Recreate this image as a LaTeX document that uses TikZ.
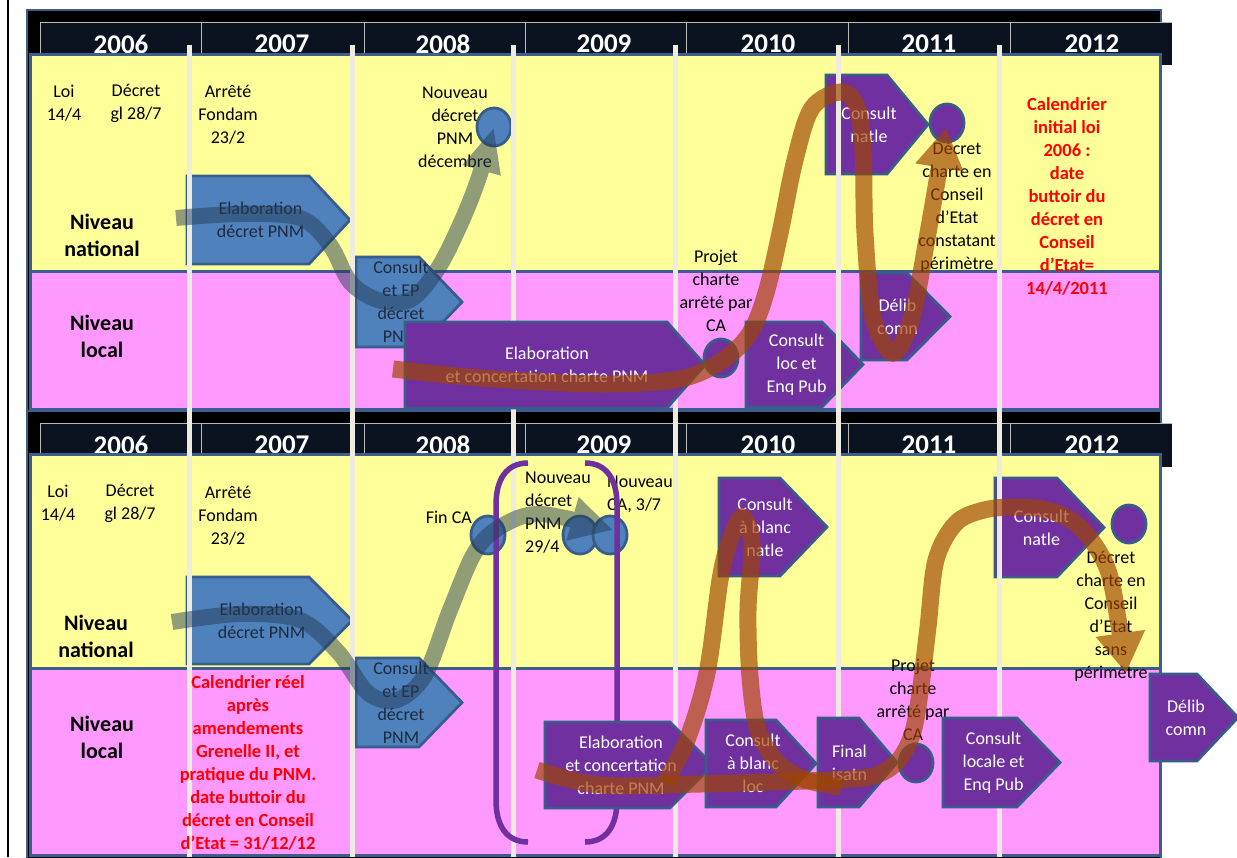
\documentclass[tikz,border=0pt]{standalone}
\usepackage{fontspec}
\setmainfont{Carlito}
\usetikzlibrary{arrows.meta,shapes.geometric}
\definecolor{yel}{RGB}{255,255,153}
\definecolor{pnk}{RGB}{255,153,255}
\definecolor{frameblue}{RGB}{59,94,140}
\definecolor{hdr}{RGB}{11,18,32}
\definecolor{hdrline}{RGB}{185,185,185}
\definecolor{gline}{RGB}{238,236,225}
\definecolor{bfill}{RGB}{79,129,189}
\definecolor{bborder}{RGB}{56,93,138}
\definecolor{pfill}{RGB}{112,48,160}
\definecolor{navyar}{RGB}{35,61,87}
\definecolor{orar}{RGB}{160,68,0}
\definecolor{redt}{RGB}{255,0,0}
\definecolor{bluetext}{RGB}{30,42,60}
% pentagon box: 1 box style, 2 text style, 3 name, 4 x1, 5 y1, 6 x of pointer start, 7 tip x, 8 y2, 9 text
\newcommand{\pentnode}[9]{%
  \draw[#1] (#4,#5) -- (#6,#5) -- (#7,{(#5+#8)/2}) -- (#6,#8) -- (#4,#8) -- cycle;
  \node[#2] (#3) at ({(#4+#7)/2-8},{(#5+#8)/2}) {#9};}
\begin{document}
\begin{tikzpicture}[x=1pt,y=-1pt,
  lbl/.style={font=\fontsize{18}{23}\selectfont, align=center, inner sep=0pt, text=black},
  niv/.style={font=\fontsize{22}{27}\selectfont\bfseries, align=center, inner sep=0pt, text=black},
  yr/.style={font=\fontsize{27}{30}\selectfont\bfseries, text=white, inner sep=0pt},
  redtx/.style={font=\fontsize{18.5}{23}\selectfont\bfseries, text=redt, align=center, inner sep=0pt},
  btxt/.style={font=\fontsize{18}{23}\selectfont, text=bluetext, align=center, inner sep=0pt},
  ptxt/.style={font=\fontsize{18}{23}\selectfont, text=white, align=center, inner sep=0pt},
  bbox/.style={fill=bfill, draw=bborder, line width=2.8pt},
  pbox/.style={fill=pfill, draw=bborder, line width=2.8pt},
  bcirc/.style={ellipse, fill=bfill, draw=bborder, line width=2.8pt, minimum width=34pt, minimum height=38pt, inner sep=0pt},
  pcirc/.style={ellipse, fill=pfill, draw=bborder, line width=2.8pt, minimum width=34pt, minimum height=38pt, inner sep=0pt},
  gl/.style={gline, line width=5pt},
  hl/.style={hdrline, line width=0.8pt},
  bracket/.style={pfill, line width=5.5pt},
  navyflow/.style={navyar, line width=16pt},
  orflow/.style={orar, line width=17pt}
]
\useasboundingbox (0,0) rectangle (1237,857);
\fill[white] (0,0) rectangle (1237,857);
\draw[black, line width=2pt] (7.5,0) -- (7.5,857);

% ---------- top panel ----------
\filldraw[fill=black, draw=frameblue, line width=2pt] (27,10) rectangle (1161,412);
\fill[hdr] (40,22) rectangle (1172,65);
\draw[hl] (40,22) -- (1172,22);
\foreach \x in {40,201,364,525,686,848,1010} \draw[hl] (\x,22) -- (\x,54);
\node[yr] (t06) at (121,44) {2006};
\node[yr] (t07) at (282,44) {2007};
\node[yr] (t08) at (443,44) {2008};
\node[yr] (t09) at (604,44) {2009};
\node[yr] (t10) at (768,44) {2010};
\node[yr] (t11) at (929,44) {2011};
\node[yr] (t12) at (1092,44) {2012};
\filldraw[fill=yel, draw=frameblue, line width=3pt] (30,54) rectangle (1160,271);
\filldraw[fill=pnk, draw=frameblue, line width=3pt] (30,271) rectangle (1160,409);

% ---------- bottom panel ----------
\filldraw[fill=black, draw=frameblue, line width=2pt] (27,411) rectangle (1161,870);
\fill[hdr] (40,423) rectangle (1172,467);
\draw[hl] (40,423) -- (1172,423);
\foreach \x in {40,201,364,525,686,848,1010} \draw[hl] (\x,423) -- (\x,454);
\node[yr] (u06) at (121,445) {2006};
\node[yr] (u07) at (282,445) {2007};
\node[yr] (u08) at (443,445) {2008};
\node[yr] (u09) at (604,445) {2009};
\node[yr] (u10) at (768,445) {2010};
\node[yr] (u11) at (929,445) {2011};
\node[yr] (u12) at (1092,445) {2012};
\filldraw[fill=yel, draw=frameblue, line width=3pt] (30,454) rectangle (1160,668);
\filldraw[fill=pnk, draw=frameblue, line width=3pt] (30,668) rectangle (1160,855);

% ---------- labels ----------
\node[lbl] (loi1) at (64,103.5) {Loi\\14/4};
\node[lbl] (dec1) at (136,103.5) {Décret\\gl 28/7};
\node[lbl] (arr1) at (228,115) {Arrêté\\Fondam\\23/2};
\node[niv] (nn1) at (102,235.5) {Niveau\\national};
\node[niv] (nl1) at (102,336.5) {Niveau\\local};
\node[lbl] (nd1) at (455,127.5) {Nouveau\\décret\\PNM\\décembre};
\node[lbl] (pc1) at (716,291) {Projet\\charte\\arrêté par\\CA};
\node[lbl] (dc1) at (957,207.5) {Décret\\charte en\\Conseil\\d’Etat\\constatant\\périmètre};

\node[lbl] (loi2) at (58,503.5) {Loi\\14/4};
\node[lbl] (dec2) at (130,503.5) {Décret\\gl 28/7};
\node[lbl] (arr2) at (228,516) {Arrêté\\Fondam\\23/2};
\node[niv] (nn2) at (96,636.5) {Niveau\\national};
\node[niv] (nl2) at (102,737.5) {Niveau\\local};
\node[lbl, anchor=east] (fin) at (472,517) {Fin CA};
\node[lbl, align=left, anchor=west] (nd2) at (525,512.5) {Nouveau\\décret\\PNM\\29/4};
\node[lbl, align=left, anchor=west] (nca) at (607,494.5) {Nouveau\\CA, 3/7};
\node[lbl] (pc2) at (913,700) {Projet\\charte\\arrêté par\\CA};
\node[lbl] (dc2) at (1111,616.5) {Décret\\charte en\\Conseil\\d’Etat\\sans\\périmètre};

% ---------- boxes under the year lines ----------
\pentnode{bbox}{btxt}{b1}{187}{176}{309}{350}{264}{Elaboration\\décret PNM}
\pentnode{bbox}{btxt}{b2}{356}{257}{419}{462}{347}{Consult\\et EP\\décret\\PNM}
\pentnode{pbox}{ptxt}{p1}{826}{75}{887}{928}{174}{Consult\\natle}
\pentnode{pbox}{ptxt}{p2}{746}{322}{822}{863}{407}{Consult\\loc et\\Enq Pub}
\node[bcirc] (c1) at (494,127) {};
\pentnode{bbox}{btxt}{b3}{187}{577}{309}{352}{664}{Elaboration\\décret PNM}
\pentnode{bbox}{btxt}{b4}{356}{658}{419}{462}{747}{Consult\\et EP\\décret\\PNM}
\pentnode{pbox}{ptxt}{p5}{995}{478}{1057}{1104}{577}{Consult\\natle}

% ---------- year lines ----------
\foreach \x in {189,352,513,675,838,999} \draw[gl] (\x,45) -- (\x,857);

% ---------- boxes over the year lines ----------
\pentnode{pbox}{ptxt}{p3}{405}{322}{667}{705}{408}{Elaboration\\et concertation charte PNM}
\pentnode{pbox}{ptxt}{p4}{861}{273}{907}{950}{360}{Délib\\comn}
\node[pcirc] (c2) at (721,358) {};
\node[pcirc] (c3) at (947,123) {};

\node[bcirc] (c4) at (488,535) {};
\node[bcirc] (c5) at (580,535) {};
\node[bcirc] (c6) at (610,535) {};
\draw[bracket] (528,463) .. controls (506,463) and (496,480) .. (496,505) -- (496,800) .. controls (496,825) and (506,842) .. (528,842);
\draw[bracket] (585,463) .. controls (607,463) and (617,480) .. (617,505) -- (617,800) .. controls (617,825) and (607,842) .. (585,842);
\pentnode{pbox}{ptxt}{p6}{545}{722}{670}{713}{808}{Elaboration\\et concertation\\charte PNM}
\pentnode{pbox}{ptxt}{p7}{719}{478}{780}{827}{576}{Consult\\à blanc\\natle}
\pentnode{pbox}{ptxt}{p8}{706}{720}{776}{816}{807}{Consult\\à blanc\\loc}
\pentnode{pbox}{ptxt}{p9}{818}{718}{859}{897}{807}{Final\\isatn}
\pentnode{pbox}{ptxt}{p10}{943}{718}{1017}{1060}{807}{Consult\\locale et\\Enq Pub}
\pentnode{pbox}{ptxt}{p11}{1150}{674}{1197}{1238}{761}{Délib\\comn}
\node[pcirc] (c7) at (916,763) {};
\node[pcirc] (c8) at (1129,524) {};

% ---------- red notes ----------
\node[redtx] (red1) at (1067,196.5) {Calendrier\\initial loi\\2006 :\\date\\buttoir du\\décret en\\Conseil\\d’Etat=\\14/4/2011};
\node[redtx] (red2) at (248,762.5) {Calendrier réel\\après\\amendements\\Grenelle II, et\\pratique du PNM.\\date buttoir du\\décret en Conseil\\d’Etat = 31/12/12};

% ---------- flows ----------
\begin{scope}[transparency group, opacity=0.5]
\draw[navyflow, -{Triangle[length=45pt,width=36pt]}] plot[smooth, tension=0.55] coordinates {(176,218) (240,214) (300,218) (330,245) (350,282) (378,300) (410,300) (437,270) (460,225) (478,180) (c1.center)};
\end{scope}
\begin{scope}[transparency group, opacity=0.5]
\draw[navyflow, -{Triangle[length=42pt,width=42pt]}] plot[smooth, tension=0.55] coordinates {(172,622) (240,614) (300,620) (338,652) (368,693) (397,700) (425,675) (450,610) (475,552) (500,527) (540,514) (613,530)};
\end{scope}
\begin{scope}[transparency group, opacity=0.68]
\draw[orflow, -{Triangle[length=40pt,width=46pt]}] plot[smooth, tension=0.55] coordinates {(393,369) (480,378) (600,384) (680,379) (723,360) (750,333) (766,293) (780,233) (795,160) (812,108) (841,92) (857,107) (863,150) (865,233) (873,317) (893,353) (912,317) (928,233) (946,128)};
\end{scope}
\begin{scope}[transparency group, opacity=0.68]
\draw[orflow, -{Triangle[length=40pt,width=47pt]}] plot[smooth, tension=0.55] coordinates {(537,770) (600,785) (700,784) (830,780) (873,776) (897,762) (912,735) (920,693) (928,627) (936,560) (956,523) (984,510) (1015,507) (1047,510) (1075,523) (1098,550) (1112,585) (1126,673)};
\end{scope}
\begin{scope}[transparency group, opacity=0.68]
\draw[orflow] plot[smooth, tension=0.55] coordinates {(665,782) (687,740) (707,673) (720,580) (729,543) (742,517) (752,543) (748,610) (750,677) (758,730) (778,763) (806,780) (841,787)};
\end{scope}
\end{tikzpicture}
\end{document}
